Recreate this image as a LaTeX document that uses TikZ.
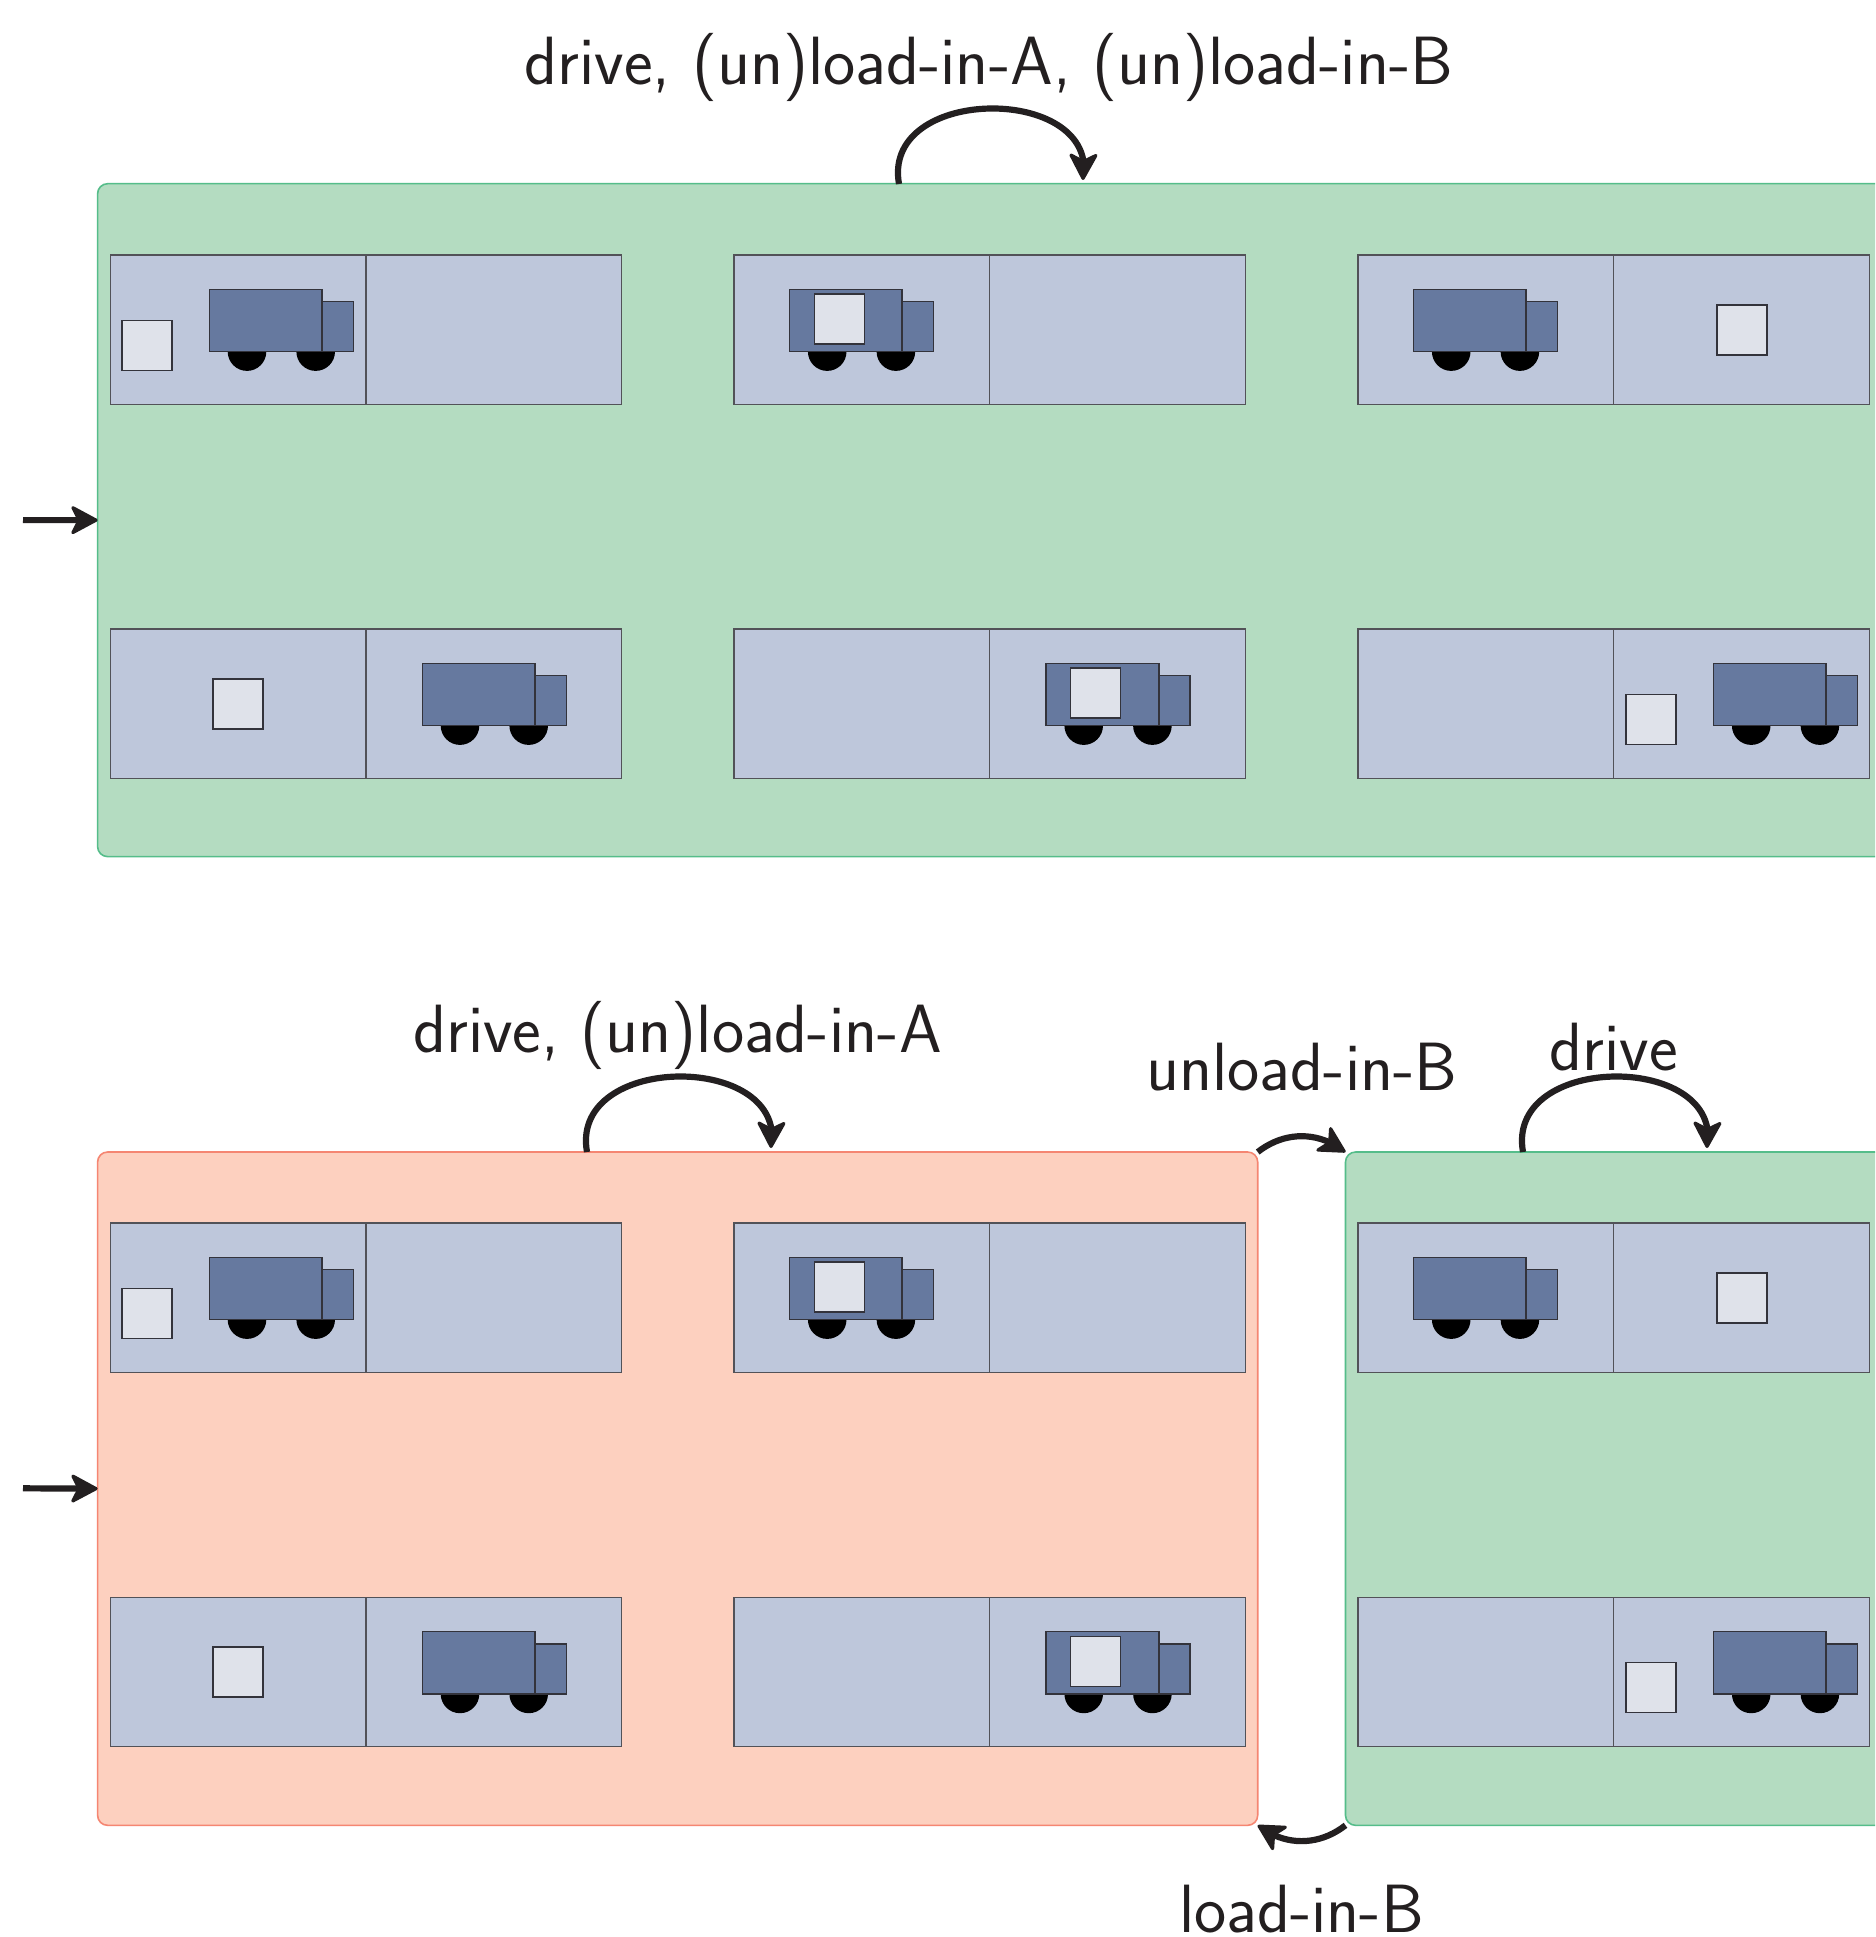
\documentclass[tikz,border=0pt]{standalone}
\usepackage{fontspec}
\usetikzlibrary{arrows.meta,calc,bending}
\definecolor{greenfill}{HTML}{B4DCC1}
\definecolor{greenline}{HTML}{55BD8A}
\definecolor{redfill}{HTML}{FDD0BF}
\definecolor{redline}{HTML}{F58672}
\definecolor{cellfill}{HTML}{BEC7DB}
\definecolor{truckfill}{HTML}{66799F}
\definecolor{parcelfill}{HTML}{DFE2EA}
\definecolor{ink}{HTML}{33333B}
\definecolor{textink}{HTML}{231F20}
\tikzset{
  x=0.5pt,y=-0.5pt,
  panel/.style={draw=#1line,fill=#1fill,line width=0.8pt,rounded corners=5pt,inner sep=0pt,outer sep=0pt},
  cellhalf/.style={draw=ink!85!white,fill=cellfill,line width=0.65pt,inner sep=0pt,outer sep=0pt,minimum width=127.85pt,minimum height=74.65pt,anchor=north west},
  parcel/.style={draw=ink,fill=parcelfill,line width=0.8pt,inner sep=0pt,outer sep=0pt,minimum width=25pt,minimum height=25pt,anchor=north west},
  lbl/.style={font=\sffamily\fontsize{34.15}{40}\selectfont,text=textink,anchor=base,inner sep=0pt},
  arr/.style={draw=textink,line width=3.1pt,-{Stealth[length=15pt,width=16pt,inset=4pt,round,line width=1.6pt]}},
  truckpic/.pic={
    \fill[black] (37.7,62.3) circle[radius=19.3];
    \fill[black] (106.4,62.3) circle[radius=19.3];
    \draw[draw=ink,fill=truckfill,line width=0.8pt] (112.7,12.3) rectangle (144,62.3);
    \draw[draw=ink,fill=truckfill,line width=0.8pt] (0,0) rectangle (112.7,62.3);
  }
}
% name, x, y of a two-part road
\newcommand\road[3]{%
  \node[cellhalf] (#1a) at (#2,#3) {};
  \node[cellhalf] (#1b) at (#1a.north east) {};
}
% road name, x offset, y offset
\newcommand\placetruck[3]{\pic at ($(#1a.north west)+(#2,#3)$) {truckpic};}
\newcommand\placeparcel[4]{\node[parcel] (#1) at ($(#2a.north west)+(#3,#4)$) {};}
\begin{document}
\begin{tikzpicture}
\path[use as bounding box,clip] (0,0) rectangle (1875,1937);
\fill[white] (0,0) rectangle (1875,1937);
% ---- top panel
\node[panel=green,minimum width=1000pt,minimum height=336.45pt,anchor=north west] (top) at (97.6,183.7) {};
\road{ta}{110.3}{255}
\placetruck{ta}{99}{34.3}
\placeparcel{pa}{ta}{11.7}{65.3}
\road{tb}{734}{255}
\placetruck{tb}{55.5}{34.3}
\placeparcel{pb}{tb}{80.4}{39}
\road{tc}{1358}{255}
\placetruck{tc}{55.5}{34.3}
\placeparcel{pc}{tc}{358.8}{49.7}
\road{td}{110.3}{629}
\placetruck{td}{312}{34.3}
\placeparcel{pd}{td}{102.6}{49.7}
\road{te}{734}{629}
\placetruck{te}{312}{34.3}
\placeparcel{pe}{te}{336.6}{39}
\road{tf}{1358}{629}
\placetruck{tf}{355.5}{34.3}
\placeparcel{pf}{tf}{268}{65.3}
% ---- bottom panels
\node[panel=red,minimum width=580.05pt,minimum height=336.65pt,anchor=north west] (red) at (97.6,1152) {};
\node[panel=green,minimum width=500pt,minimum height=336.65pt,anchor=north west] (grn) at (1345.5,1152) {};
\road{ra}{110.3}{1223}
\placetruck{ra}{99}{34.3}
\placeparcel{qa}{ra}{11.7}{65.3}
\road{rb}{734}{1223}
\placetruck{rb}{55.5}{34.3}
\placeparcel{qb}{rb}{80.4}{39}
\road{rc}{110.3}{1597.3}
\placetruck{rc}{312}{34.3}
\placeparcel{qc}{rc}{102.6}{49.7}
\road{rd}{734}{1597.3}
\placetruck{rd}{312}{34.3}
\placeparcel{qd}{rd}{336.6}{39}
\road{ga}{1358}{1223}
\placetruck{ga}{55.5}{34.3}
\placeparcel{qe}{ga}{358.8}{49.7}
\road{gb}{1358}{1597.3}
\placetruck{gb}{355.5}{34.3}
\placeparcel{qf}{gb}{268}{65.3}
% ---- labels
\node[lbl] (l1) at (989,84.5) {drive, (un)load-in-A, (un)load-in-B};
\node[lbl] (l2) at (677.5,1052.5) {drive, (un)load-in-A};
\node[lbl] (l3) at (1302,1090.5) {unload-in-B};
\node[lbl] (l4) at (1613.5,1070) {drive};
\node[lbl] (l5) at (1301.5,1932.5) {load-in-B};
% ---- connectors
\coordinate (i1) at (23,520.1);
\coordinate (i2) at (23,1488.3);
\draw[arr] (i1) -- (top.west);
\draw[arr] (i2) -- (red.west);
\coordinate (s1) at (899,184); \coordinate (e1) at (1083,180);
\coordinate (s2) at (587,1152); \coordinate (e2) at (771,1148);
\coordinate (s3) at (1523,1152); \coordinate (e3) at (1707,1148);
\draw[arr] (s1) .. controls +(-18,-100) and +(18,-96) .. (e1);
\draw[arr] (s2) .. controls +(-18,-100) and +(18,-96) .. (e2);
\draw[arr] (s3) .. controls +(-18,-100) and +(18,-96) .. (e3);
\draw[arr] (red.north east) to[bend left=38] (grn.north west);
\draw[arr] (grn.south west) to[bend left=38] (red.south east);
\end{tikzpicture}
\end{document}
